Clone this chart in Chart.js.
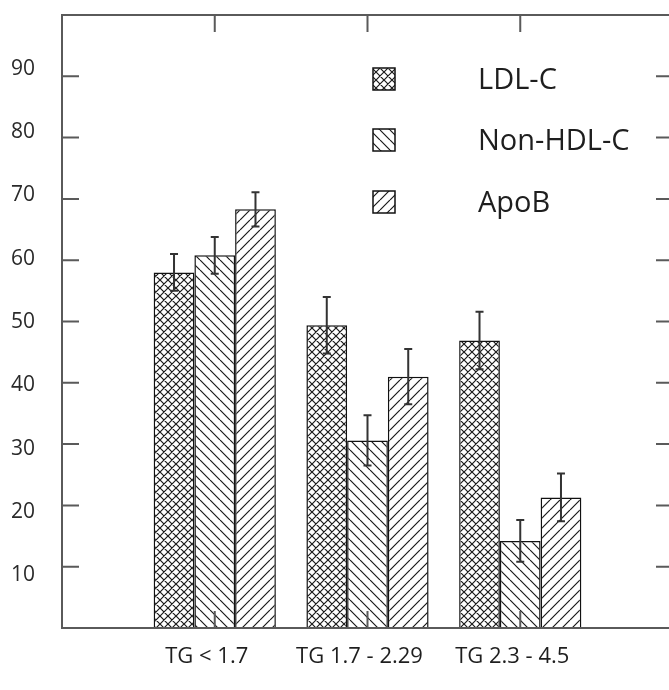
<!DOCTYPE html>
<html>
<head>
<meta charset="utf-8">
<script src="https://cdn.jsdelivr.net/npm/chart.js@4.4.0/dist/chart.umd.min.js"></script>
<style>
  html, body { margin: 0; padding: 0; background: #ffffff; overflow: hidden; }
  #wrap { width: 676px; height: 690px; }
</style>
</head>
<body>
<div id="wrap"><canvas id="c" width="676" height="690"></canvas></div>
<script>
// ---- data ----
const categories = ['TG < 1.7', 'TG 1.7 - 2.29', 'TG 2.3 - 4.5'];
const seriesNames = ['LDL-C', 'Non-HDL-C', 'ApoB'];
const ldlValues = [58.0, 49.4, 46.9];
const ldlErrors = [3.0, 4.6, 4.7];
const nonHdlValues = [60.8, 30.6, 14.2];
const nonHdlErrors = [3.0, 4.1, 3.4];
const apoBValues = [68.3, 41.0, 21.3];
const apoBErrors = [2.8, 4.5, 3.9];
const yTickValues = [10, 20, 30, 40, 50, 60, 70, 80, 90];

// ---- hatch patterns ----
function makePattern(kind) {
  const p = kind === 'cross' ? 8 : 10;
  const c = document.createElement('canvas');
  c.width = p; c.height = p;
  const g = c.getContext('2d');
  g.fillStyle = '#ffffff';
  g.fillRect(0, 0, p, p);
  g.strokeStyle = '#1a1a1a';
  g.lineWidth = 1.2;
  g.beginPath();
  for (let k = -1; k <= 1; k++) {
    if (kind === 'back' || kind === 'cross') { g.moveTo(k * p, 0); g.lineTo(k * p + p, p); }
    if (kind === 'fwd' || kind === 'cross') { g.moveTo(k * p, p); g.lineTo(k * p + p, 0); }
  }
  g.stroke();
  return document.getElementById('c').getContext('2d').createPattern(c, 'repeat');
}
const patterns = [makePattern('cross'), makePattern('back'), makePattern('fwd')];

const seriesValues = [ldlValues, nonHdlValues, apoBValues];
const seriesErrors = [ldlErrors, nonHdlErrors, apoBErrors];

const datasets = seriesNames.map((name, s) => ({
  label: name,
  data: seriesValues[s].map((v, i) => ({ x: i + 1, y: v })),
  errors: seriesErrors[s],
  backgroundColor: patterns[s],
  borderColor: '#111111',
  borderWidth: 1.5,
  categoryPercentage: 0.8,
  barPercentage: 1.0
}));

const TICK = 17;
const FRAME = '#5a5a5a';

function zeroPadding(s) {
  s.paddingTop = 0; s.paddingBottom = 0; s.paddingLeft = 0; s.paddingRight = 0;
}

const decorPlugin = {
  id: 'decor',
  afterDatasetsDraw(chart) {
    const { ctx, chartArea: a, scales } = chart;
    const x = scales.x, y = scales.y;
    ctx.save();
    // error bars
    chart.data.datasets.forEach((ds, di) => {
      const meta = chart.getDatasetMeta(di);
      meta.data.forEach((bar, i) => {
        const v = ds.data[i].y, e = ds.errors[i];
        const yt = y.getPixelForValue(v + e), yb = y.getPixelForValue(v - e);
        ctx.strokeStyle = '#333333';
        ctx.lineWidth = 2;
        ctx.beginPath();
        ctx.moveTo(bar.x, yt); ctx.lineTo(bar.x, yb);
        ctx.moveTo(bar.x - 4, yt); ctx.lineTo(bar.x + 4, yt);
        ctx.moveTo(bar.x - 4, yb); ctx.lineTo(bar.x + 4, yb);
        ctx.stroke();
      });
    });
    // frame
    ctx.strokeStyle = FRAME;
    ctx.lineWidth = 2;
    ctx.strokeRect(a.left, a.top, a.right - a.left, a.bottom - a.top);
    // inward ticks
    ctx.beginPath();
    yTickValues.forEach(v => {
      const py = y.getPixelForValue(v);
      ctx.moveTo(a.left, py); ctx.lineTo(a.left + TICK, py);
      ctx.moveTo(a.right, py); ctx.lineTo(a.right - TICK, py);
    });
    categories.forEach((c, i) => {
      const px = x.getPixelForValue(i + 1);
      ctx.moveTo(px, a.top); ctx.lineTo(px, a.top + TICK);
      ctx.moveTo(px, a.bottom); ctx.lineTo(px, a.bottom - TICK);
    });
    ctx.stroke();
    // legend
    const boxX = a.left + 311, textX = a.left + 416;
    const rows = [a.top + 64, a.top + 125, a.top + 187];
    ctx.font = '29px "Open Sans", sans-serif';
    ctx.textBaseline = 'middle';
    ctx.textAlign = 'left';
    seriesNames.forEach((name, s) => {
      const cy = rows[s];
      ctx.fillStyle = patterns[s];
      ctx.fillRect(boxX, cy - 11, 22, 22);
      ctx.strokeStyle = '#111111';
      ctx.lineWidth = 1.5;
      ctx.strokeRect(boxX, cy - 11, 22, 22);
      ctx.fillStyle = '#1e1e1e';
      ctx.fillText(name, textX, cy + 2);
    });
    ctx.restore();
  }
};

new Chart(document.getElementById('c'), {
  type: 'bar',
  data: { datasets },
  options: {
    responsive: false,
    devicePixelRatio: 1,
    animation: false,
    layout: { autoPadding: false, padding: { top: 15, right: 3, left: 0, bottom: 0 } },
    plugins: { legend: { display: false }, tooltip: { enabled: false } },
    scales: {
      x: {
        type: 'linear',
        position: 'bottom',
        min: 0,
        max: 4,
        offset: false,
        grid: { display: false, drawTicks: false, offset: false },
        border: { display: false },
        ticks: {
          stepSize: 1,
          autoSkip: false,
          maxRotation: 0,
          minRotation: 0,
          labelOffset: -8,
          padding: 16,
          color: '#1e1e1e',
          font: { family: '"Open Sans", sans-serif', size: 22 },
          callback: (v) => categories[v - 1] !== undefined ? categories[v - 1] : null
        },
        afterFit: (s) => { s.height = 62; zeroPadding(s); }
      },
      y: {
        type: 'linear',
        display: false,
        min: 0,
        max: 100
      },
      yLab: {
        type: 'linear',
        position: 'left',
        min: 1.66,
        max: 98.5,
        grid: { display: false, drawTicks: false },
        border: { display: false },
        ticks: {
          stepSize: 10,
          autoSkip: false,
          padding: 27,
          color: '#2a2a2a',
          font: { family: '"Open Sans", sans-serif', size: 21 },
          callback: (v) => yTickValues.find(t => Math.abs(t - v) < 1e-6) !== undefined ? String(Math.round(v)) : null
        },
        afterFit: (s) => { s.width = 62; zeroPadding(s); }
      }
    }
  },
  plugins: [decorPlugin]
});
</script>
</body>
</html>
